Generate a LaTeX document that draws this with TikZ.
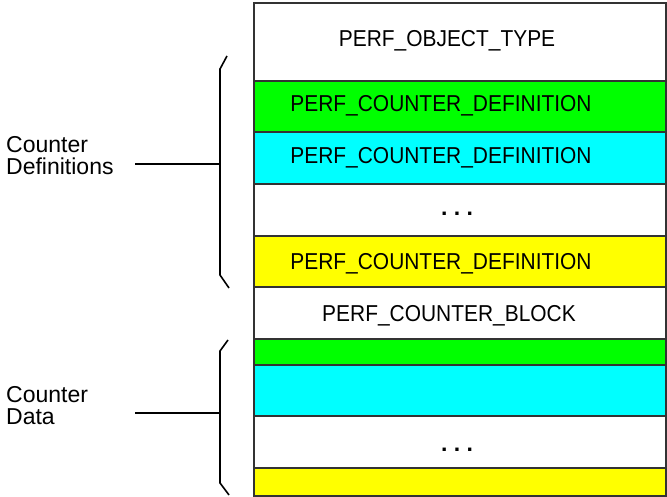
\documentclass[tikz,border=0pt]{standalone}
\usepackage{fontspec}
\setmainfont{Liberation Sans}
\usepackage{graphicx}
\newcommand{\lblfont}{\fontsize{23bp}{22bp}\selectfont}
\newcommand{\rowtext}[1]{\scalebox{0.91}[1]{#1}}
\definecolor{boxline}{HTML}{333333}
\definecolor{pgreen}{HTML}{00FF00}
\definecolor{pcyan}{HTML}{00FFFF}
\definecolor{pyellow}{HTML}{FFFF00}
\begin{document}
\begin{tikzpicture}[x=1bp,y=-1bp,
  rowbox/.style={draw=boxline, line width=2bp, minimum width=412bp,
    inner sep=0pt, outer sep=0pt, anchor=north west},
  rowlabel/.style={font=\lblfont, anchor=base, inner sep=0pt},
  sidelabel/.style={font=\lblfont, align=left, anchor=base west, inner sep=0pt},
  bracket/.style={draw=black, line width=1.6bp},
  leader/.style={draw=black, line width=1.6bp}]
\useasboundingbox (0,0) rectangle (667,497);

% structure rows
\node[rowbox, fill=white,   minimum height=78bp] (obj)     at (254,3)   {};
\node[rowbox, fill=pgreen,  minimum height=51bp] (def1)    at (254,81)  {};
\node[rowbox, fill=pcyan,   minimum height=52bp] (def2)    at (254,132) {};
\node[rowbox, fill=white,   minimum height=52bp] (defdots) at (254,184) {};
\node[rowbox, fill=pyellow, minimum height=51bp] (def3)    at (254,236) {};
\node[rowbox, fill=white,   minimum height=52bp] (block)   at (254,287) {};
\node[rowbox, fill=pgreen,  minimum height=26bp] (dat1)    at (254,339) {};
\node[rowbox, fill=pcyan,   minimum height=51bp] (dat2)    at (254,365) {};
\node[rowbox, fill=white,   minimum height=52bp] (datdots) at (254,416) {};
\node[rowbox, fill=pyellow, minimum height=28bp] (dat3)    at (254,468) {};

% row captions
\node[rowlabel] (tobj)     at (447,47)  {\rowtext{PERF\_OBJECT\_TYPE}};
\node[rowlabel] (tdef1)    at (441,112) {\rowtext{PERF\_COUNTER\_DEFINITION}};
\node[rowlabel] (tdef2)    at (441,164) {\rowtext{PERF\_COUNTER\_DEFINITION}};
\node[rowlabel] (tdefdots) at (457,216) {\textbf{.\ .\ .}};
\node[rowlabel] (tdef3)    at (441,269) {\rowtext{PERF\_COUNTER\_DEFINITION}};
\node[rowlabel] (tblock)   at (449,321) {\rowtext{PERF\_COUNTER\_BLOCK}};
\node[rowlabel] (tdatdots) at (457,451) {\textbf{.\ .\ .}};

% side labels (anchored on the baseline of their last line)
\node[sidelabel] (lbldef) at (6,175) {Counter\\Definitions};
\node[sidelabel] (lbldat) at (6,424) {Counter\\Data};

% brackets
\coordinate (b1a) at (227,56);
\coordinate (b1b) at (220,69);
\coordinate (b1m) at (220,164);
\coordinate (b1c) at (220,275);
\coordinate (b1d) at (229,288);
\coordinate (b2a) at (228,340);
\coordinate (b2b) at (220,351);
\coordinate (b2m) at (220,413);
\coordinate (b2c) at (220,483);
\coordinate (b2d) at (229,495);
\path[bracket] (b1a) -- (b1b) -- (b1c) -- (b1d);
\path[bracket] (b2a) -- (b2b) -- (b2c) -- (b2d);

% leaders from labels to brackets
\coordinate (l1) at (135,164);
\coordinate (l2) at (135,413);
\path[leader] (l1) -- (b1m);
\path[leader] (l2) -- (b2m);
\end{tikzpicture}
\end{document}
